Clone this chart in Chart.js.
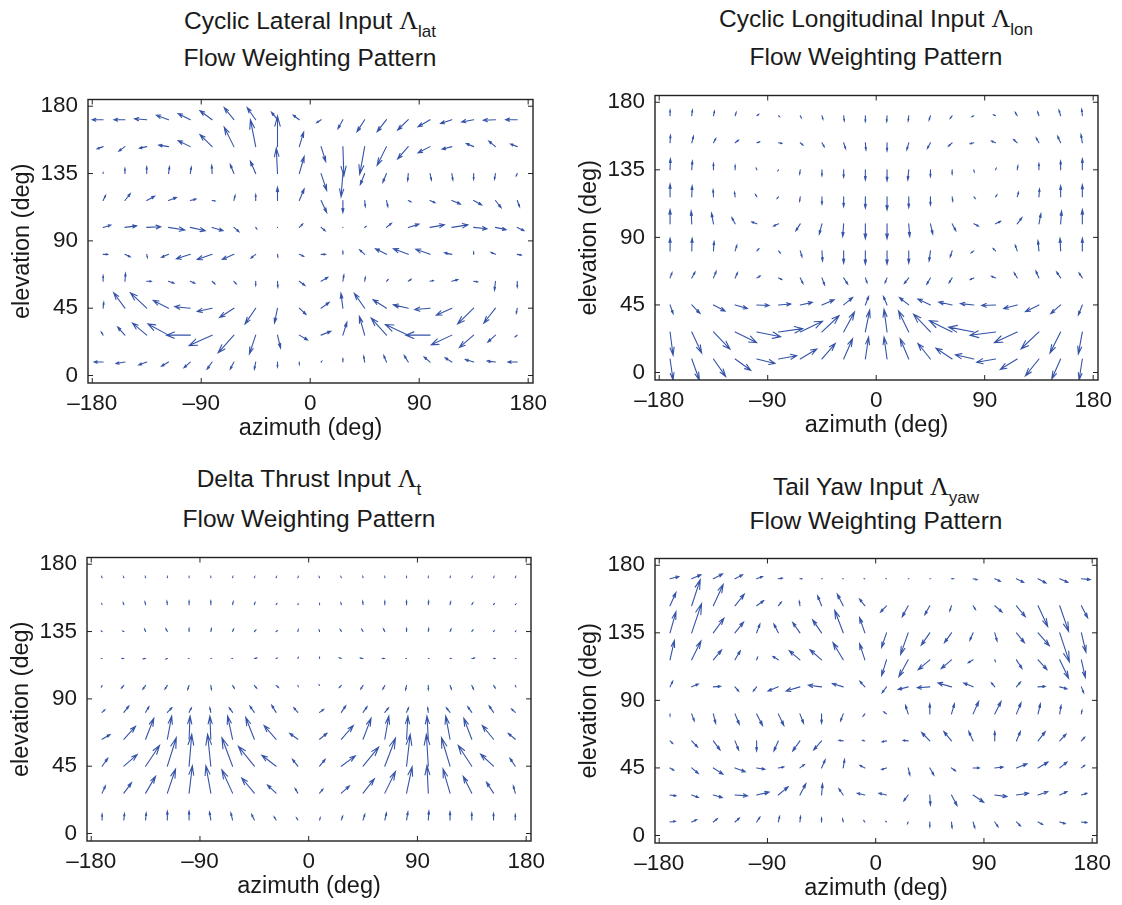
<!DOCTYPE html>
<html>
<head>
<meta charset="utf-8">
<script src="https://cdn.jsdelivr.net/npm/chart.js@4.4.1/dist/chart.umd.min.js"></script>
<style>
  body { margin:0; background:#fff; }
  #pagina { position:relative; width:1122px; height:905px; overflow:hidden; background:#fff;
            font-family:"Liberation Sans", Arial, sans-serif; color:#1a1a1a; }
  .quadro { position:absolute; }
  .titulo { position:absolute; width:600px; text-align:center; font-size:24.5px; line-height:24.5px; white-space:nowrap; }
  .lam { font-family:"Liberation Serif", "DejaVu Serif", serif; font-size:26px; }
  .sub { font-size:17px; position:relative; top:8px; }
</style>
</head>
<body>
<div id="pagina">
  <div class="titulo" style="left:10px;top:9px">Cyclic Lateral Input <span class="lam">&Lambda;</span><span class="sub">lat</span></div>
  <div class="titulo" style="left:10px;top:46px">Flow Weighting Pattern</div>
  <div class="titulo" style="left:576px;top:7px">Cyclic Longitudinal Input <span class="lam">&Lambda;</span><span class="sub">lon</span></div>
  <div class="titulo" style="left:576px;top:45px">Flow Weighting Pattern</div>
  <div class="titulo" style="left:9px;top:467px">Delta Thrust Input <span class="lam">&Lambda;</span><span class="sub">t</span></div>
  <div class="titulo" style="left:9px;top:507px">Flow Weighting Pattern</div>
  <div class="titulo" style="left:576px;top:475px">Tail Yaw Input <span class="lam">&Lambda;</span><span class="sub">yaw</span></div>
  <div class="titulo" style="left:576px;top:509px">Flow Weighting Pattern</div>

  <div class="quadro" style="left:2px;top:76px;width:555px;height:369px"><canvas id="graficoLat"></canvas></div>
  <div class="quadro" style="left:569px;top:72px;width:553px;height:370px"><canvas id="graficoLon"></canvas></div>
  <div class="quadro" style="left:1px;top:534px;width:554px;height:369px"><canvas id="graficoThr"></canvas></div>
  <div class="quadro" style="left:569px;top:535px;width:552px;height:370px"><canvas id="graficoYaw"></canvas></div>
</div>

<script>
// Grade de amostragem (graus)
const azimutes = [-171,-153,-135,-117,-99,-81,-63,-45,-27,-9,9,27,45,63,81,99,117,135,153,171];
const elevacoes = [171,153,135,117,99,81,63,45,27,9]; // linhas de cima para baixo
const ticksAzimute = [-180,-90,0,90,180];
const ticksElevacao = [0,45,90,135,180];

// Cyclic Lateral
const latU = [
  [-9,-9,-10,-10,-10,-10,-8,-7,-5,-5,-3.6,-4.1,-6.3,-7.7,-8.8,-9.9,-9.3,-9.9,-10,-9.6],
  [-5,-5,-6,-8,-10,-10,-8,-4.4,0,3.6,3.8,0.8,-4.1,-7.7,-8.8,-9.9,-8,-6,-5.5,-5.5],
  [0,0,0,0.8,0.8,-0.3,-3,-4.4,-1,4,4.6,-1.5,-3.6,-3,-0.5,1.1,0.8,0,-0.8,-0.8],
  [2,4.4,6.5,6.5,4.6,2.5,1,0,0,4,4.6,0,0.5,1.1,2.2,4.1,7.1,6.6,4.6,1.9],
  [6.3,9.6,11.5,13.4,12.3,9,4.1,0.8,0,2.7,3.3,0,1,4.1,8.8,11.8,13.2,11,8.8,5.5],
  [3.8,4.4,0.5,-5.7,-11.5,-12.3,-9.6,-3.8,0.3,3.6,3.6,0,-4.1,-9,-12.3,-11.8,-6,0,-3.6,3.3],
  [0,0.5,3.8,4.6,3.6,2.2,1.9,0,0.3,4.6,5.5,0.8,0.5,1.3,2.2,2.7,4.9,3.3,-0.8,0],
  [0.5,-9.3,-13.4,-12.6,-12.9,-12.3,-11.8,-8.8,-2.5,5.5,6.6,-1.6,-8.5,-11,-12.3,-12.6,-12.9,-13.2,-9.6,-0.8],
  [-1.5,-6,-11.8,-17,-19.7,-19,-13,-5.2,2.5,6.8,8,3.3,-4.4,-12.6,-18.9,-20,-17,-11.8,-6.3,-1.6],
  [-7.4,-7.4,-6.6,-5.8,-5.2,-4.1,-3,-1.1,0,0,0.5,0,-0.8,-2.2,-3.3,-4.9,-5.5,-6.8,-6.8,-7.7]
];
const latV = [
  [0,0,0.6,3,4,6,8,8,5,3,-2,-6,-8,-8,-6.9,-4.7,-2.6,-1.5,-0.4,0],
  [-1.5,-3,-1,1,4,8,13,18,20.4,9.7,-9.9,-19.6,-18.5,-12.5,-8.2,-4.1,-1.7,2,3.7,1.7],
  [0.5,3.4,4.5,4.5,4.3,5.4,6,8.2,17,11.4,-11.2,-15.5,-7.3,-5.8,-4.7,-4.3,-4.3,-3.9,-3.7,-1.5],
  [3.4,4.5,2.8,2,0.9,-0.3,3.4,3.9,8.8,7.7,-8,-8,-4.1,-4.1,-0.9,-1.5,-2.4,-3,-4.7,-4.1],
  [1.5,1,0.4,-1.7,-2.2,-2.2,-2.8,-0.9,0,2.2,-2.2,0,0.6,2.8,2.2,1.7,1.7,-0.9,-1.5,-2.2],
  [0,-1.7,-2,-2,-3,-3.4,-3.4,-2.4,-1.7,-1.3,0,1.9,3,3.7,3.7,3.4,1,1.5,1.3,-0.5],
  [3.7,5.2,0,-1.3,-1.3,-1.7,-1.7,-2.8,-3.9,-2.8,2.6,4.1,2.6,1.1,1.3,0.5,1.1,-0.4,-6,-3.9],
  [3.9,10.3,10.3,5.2,1,-2.2,-6.2,-10.5,-9.9,-4.1,3.9,9.9,9.9,5.6,2.2,-0.9,-4.7,-10.5,-9.9,-3.4],
  [2,5.4,8,7.5,0,-7,-11.8,-12.5,-8.6,-3.2,2.6,8.6,12.5,11.4,7.1,0,-6.5,-8.2,-4.7,-1.1],
  [0,-1,-1.9,-2.8,-3.7,-4.7,-4.7,-4.7,-3.2,-1.5,0.5,2.2,3.9,4.3,4.3,3.4,2.8,1.7,0.6,0]
];

// Cyclic Longitudinal
const lonU = [
  [0,0.5,0.8,0.8,1.4,0.8,0.8,0.8,0.5,0,-0.3,-0.5,-1.1,-1.6,-1.6,-1.6,-1.6,-1.1,-1.4,-0.5],
  [0.3,1.4,1.9,2.7,2.2,2.7,2.2,1.9,1.6,0.5,0,-1.6,-2.5,-3,-3,-3.3,-3,-2.2,-2.5,-1.1],
  [0.3,0.5,0,0,-0.5,-0.5,-0.5,0,0,0,0,-0.8,0,0,0.3,0.5,0.5,0,0,0],
  [0,0.3,-0.3,-0.5,-1.1,-1.1,-0.5,0,0,0,0,0,0,0.5,1.1,1.1,1.1,0.5,0,0],
  [0,-0.5,-1.6,-2.7,-4.1,-4.1,-3.6,-2.2,-0.8,0,0,0.8,1.9,3,3.8,4.1,3.8,1.6,0.8,0],
  [0,0.3,0.5,1.4,1.6,1.4,1.4,0.5,0,0,0,0,-1.1,-1.6,-2.2,-1.9,-1.6,-0.8,-0.5,0],
  [1.6,2.7,2.2,1.9,2.7,2.7,2.2,2.2,3.3,1.4,-1.6,-3.6,-3,-2.5,-3,-3.3,-2.5,-2.5,-3.3,-2.7],
  [2.5,6.8,9.6,10.1,10.1,10.1,10.1,10.1,7.4,2.7,-3,-7.7,-10.4,-11.2,-11.2,-11.5,-11.2,-11.2,-8.2,-3.3],
  [2.5,8.2,13.7,17.8,19.7,20,18.4,14.2,9,3.6,-2.5,-8.5,-14,-18.9,-20.8,-21.1,-18.9,-14.8,-8.8,-3.3],
  [2.5,6.3,10.1,12.9,15,15,13.7,11,7.4,2.7,-2.5,-7.1,-10.4,-13.4,-15.3,-15.6,-14,-11.2,-7.4,-2.7]
];
const lonV = [
  [3.7,3.7,3,2.2,0.9,-0.6,-1.3,-2.2,-3.4,-3.9,-3.9,-3.4,-2.8,-1.7,-0.6,0.6,2.2,2.6,3.7,4.3],
  [4.9,4.3,2.8,1.7,0.6,-0.4,-1.5,-2.6,-3.9,-4.7,-5.4,-4.7,-3.7,-2.2,-0.6,1.1,2.2,3.2,4.3,5.4],
  [7.3,5.8,4.1,3,1,-0.5,-2.8,-3.9,-4.9,-6.7,-7.3,-6.7,-4.5,-2.8,-1.3,0.9,2.6,4.1,5.8,7.3],
  [8.4,7.3,4.7,3,1.5,-0.9,-2.8,-4.9,-6.5,-7.5,-8.6,-7.1,-5.4,-2.8,-1.1,1.1,3,5.2,7.3,8],
  [9.5,8.4,7.1,4.1,1.3,-1.5,-4.5,-6.7,-8.4,-9.9,-9.9,-8.4,-6.7,-4.5,-1.5,1.7,4.1,6.7,8.4,9.5],
  [8.4,8.4,6.2,3.7,1.3,-1.3,-3.9,-6.7,-8.2,-8.8,-8.8,-8.2,-6.7,-3.9,-1.3,1.5,3.7,6.7,8.4,8.4],
  [3.4,3.9,4.3,3.4,1.3,-1.1,-3.7,-4.7,-4.1,-3.2,-3.2,-3.7,-4.1,-3.2,-1.1,1.1,3.4,4.5,3.9,3.2],
  [-5.8,-5.6,-4.1,-2.4,-0.4,0.6,1.7,3.4,4.9,5.6,5.6,4.9,3.9,1.9,0.9,-0.4,-2.4,-4.5,-5.8,-6.7],
  [-15.5,-14,-11.4,-7.1,-3.2,2.2,7.1,10.8,13.3,14.6,15,14,11.8,7.5,3.2,-2.2,-7.1,-11.2,-14,-14.6],
  [-14,-14,-11.6,-7.5,-3,2.2,6.7,10.3,13.5,14.6,14.6,13.5,10.3,7.1,2.8,-2.2,-6.9,-11.2,-13.3,-14]
];

// Delta Thrust
const thrU = [
  [-0.3,-0.3,-0.2,0,0,0,0.2,0.3,0.3,0.3,-0.3,-0.3,-0.2,0,0,0,0.2,0.3,0.3,0.3],
  [-0.3,-0.5,-0.5,-0.3,0,0,0.5,0.5,0.5,0.3,0,-0.3,-0.3,0,0,0.3,0.5,0.8,0.5,0.3],
  [-0.5,-0.8,-0.8,-1.1,0,0.5,0.8,1.1,0.8,0.3,-0.3,-0.8,-1.1,-1.1,0,0.3,0.8,0.8,0.5,0.3],
  [-0.3,-1.4,-1.9,-1.1,-0.3,0.3,-0.5,1.9,0.8,0.3,0,-1.6,-2.2,-1.9,-0.3,0.3,0.8,2.2,1.1,0.3],
  [-0.5,-1.9,-2.2,-1.9,-1.1,0.5,1.4,1.9,1.9,0.3,-0.3,-1.6,-1.9,-1.6,-0.8,0,1.1,1.4,1.4,0.3],
  [2.2,4.1,2.7,3.6,1.9,-0.8,-2.7,-3.6,-3.6,-3.3,3.3,3.6,3.3,3,1.6,-0.5,-3,-3.3,-3.6,-3],
  [6.6,9.6,6.8,3.6,0.8,-0.8,-4.1,-7.1,-9.9,-6.6,6,9.9,6.6,3.3,1.1,-1.1,-3.6,-6.6,-9.3,-5.8],
  [4.6,11,11.5,7.4,2.2,-2.7,-8.8,-13.2,-11.8,-4.4,4.6,11.5,12.9,8.8,3,-1.6,-7.1,-11.2,-10.7,-4.4],
  [2.7,6.3,8.2,6.8,2.7,-4.1,-8.8,-10.4,-7.1,-2.2,2.7,6.6,9.3,8.8,4.6,-1.1,-5.8,-7.1,-5.8,-1.6],
  [0,0.5,0.5,0,0,-1.1,-1.4,-2.2,-1.6,-1.1,0.5,1.1,1.4,1.4,1.1,0.5,0,0,0,0]
];
const thrV = [
  [0.6,0.6,0.6,0.6,0.6,0.6,0.6,0.6,0.6,0.6,0.6,0.6,0.6,0.6,0.6,0.6,0.6,0.6,0.6,0.6],
  [0.5,1.1,1.7,2.2,2.4,2.4,1.9,1.3,0.6,0.3,0.5,1.1,2.2,2.2,2.4,2.4,1.7,1.1,0.5,0.2],
  [0.3,0.3,1.5,1.7,1.9,1.9,1.5,0.9,0.5,1.1,0.9,1.3,1.5,1.7,1.9,1.9,1.5,0.9,0.5,0.3],
  [0,0,-0.2,-0.3,0,0,0,0.3,0.2,0.5,0.5,0.5,0.3,0,0,0,0,0.3,0,0],
  [-0.9,-1.7,-2.4,-2.4,-2.6,-2.6,-1.9,-1.9,-1.3,-0.5,0.3,-1.3,-2.4,-2.4,-2.8,-2.8,-2.4,-2.4,-1.7,-0.6],
  [1.7,4.1,3.7,3,3,3,3,4.1,4.7,3,1.9,4.3,3.7,3,3,3,3,3.7,4.3,2.2],
  [3.2,8.6,14,15.5,15.5,15.5,15.5,14.6,9.2,3.9,3.9,9.2,14,15.5,15.5,15.5,15.5,14,9.2,3.9],
  [5.2,7.7,13.8,19,21.3,21.3,19,13.3,7.3,4.5,4.5,6.9,12.7,18.7,21.3,21.3,19,13.8,8,5.2],
  [4.7,6.9,11.2,16.1,18.3,18.3,15.5,10.1,5.4,3,2.6,4.7,9.5,14.4,17.6,18.3,16.1,11.2,7.3,4.7],
  [3.9,4.3,4.7,5.8,6,5.4,4.7,3.7,2.2,1.5,1.5,2.6,3.7,4.7,5.4,6,5.4,4.7,4.3,3.7]
];

// Tail Yaw
const yawU = [
  [7.4,7.7,7.7,6.3,4.9,3.3,1.6,0.3,-0.3,-0.5,-0.3,0.3,0.3,1.6,3.3,4.6,6,6.6,6.8,7.4],
  [4.9,7.1,8.2,7.7,5.8,2.5,-0.5,-3.3,-4.9,-4.4,-4.9,-4.9,-4.1,-1.4,1.9,6,7.4,8,7.4,5.2],
  [4.9,8.2,8.8,7.1,2.7,-3.6,-6,-7.4,-7.1,-4.4,-4.1,-6.3,-7.1,-5.8,-2.7,1.9,6.6,9.3,8,3.8],
  [3.6,7.7,6.8,4.4,0.8,-4.4,-8.8,-9.6,-8.5,-4.4,-4.1,-7.7,-9.6,-8.5,-4.1,0.5,4.6,7.4,7.4,3.3],
  [2.2,5.5,6,3,-2.7,-8.5,-11.5,-11,-9,-4.1,-3.6,-8.2,-10.4,-11.2,-7.7,-2.7,3.3,6,6,1.9],
  [0,2.2,1.9,3.6,4.9,4.6,3,0,-2.2,-1.4,-2.2,-2.2,0,2.5,4.6,5.2,3.8,1.9,1.1,0.5],
  [2.2,4.9,5.5,3,0,-3.6,-6,-6.6,-3.6,-1.9,-3.6,-4.1,-6.8,-6.3,-3.6,0,3.3,6,5.2,2.7],
  [3,5.5,8,8.5,6.8,4.6,3.6,3,1.1,-4.1,-4.1,1.4,3.3,3.3,5.2,6.8,8.8,8.2,6,2.7],
  [4.9,5.5,7.4,10.4,10.4,8.2,4.9,0.8,-3.6,-6.3,-6.3,-3.6,0.5,4.6,8.8,10.1,10.1,8,6,4.6],
  [4.4,4.1,3.3,3.6,2.7,1.1,0.5,0,-0.5,-0.8,-0.5,-0.5,0,0.5,1.4,2.7,3.3,3.8,4.6,4.6]
];
const yawV = [
  [1.5,2.6,3.2,2.6,1.5,0.4,0,0,0,0,0,0,0,0,-0.6,-1.7,-2.4,-2.8,-2.4,-0.6],
  [8.8,17.4,14.2,7.7,3.4,2.4,3,6.7,7.7,4.5,-4.1,-7.3,-5.8,-3.4,-2.4,-4.1,-7.3,-13.8,-17,-8],
  [14,19.4,9.7,7.1,5.8,5.8,6.9,8.6,15,10.1,-9.7,-14.4,-8.2,-6.5,-4.9,-5.4,-6.5,-8.6,-19.4,-12.9],
  [12.9,12.5,6.5,6,1.7,2.2,6,6.7,11.4,10.8,-10.5,-11.2,-6.5,-5.8,-1.9,-0.9,-5.8,-6.5,-12.3,-11.8],
  [3.7,1.9,0.4,-2.8,-2.8,-2.8,-2.8,1.1,2.2,3.7,-3.9,-1.7,-0.6,2.6,2.6,2.6,3.2,0.4,-1.3,-3.9],
  [-1.3,-4.7,-6.2,-6.9,-7.7,-7.7,-6.2,-6.2,-4.7,-1.5,1.3,5.6,6.7,6.7,8.2,8.2,7.3,6.7,5.6,2.4],
  [-1.7,-4.1,-6,-6,-6.7,-6.7,-6.7,-6,0.4,0.4,-0.6,0.4,5.6,6.2,6.2,6.2,6.2,6.2,4.5,2.4],
  [-1.5,-3.7,-4.1,-2.6,-0.9,0.6,2.2,5.4,5.6,1.7,-1.1,-4.7,-4.7,-1.9,0,0.6,2.8,3.9,3.9,1.7],
  [-0.6,-1.7,-1.7,-0.6,1.9,5.4,7.5,7.3,4.1,1.1,1.1,-3.9,-6.7,-7.1,-4.9,-1.1,1.1,2.2,2.2,1.1],
  [0.4,1.5,2.2,2.6,3.2,3.7,3.7,2.6,2,0.8,0.3,-1,-3.2,-3.9,-3.9,-3.2,-2.6,-1.7,-1.1,-0.4]
];

const corSeta = "#3553a8";
const corTexto = "#1a1a1a";

Chart.defaults.font.family = '"Liberation Sans", Arial, sans-serif';
Chart.defaults.color = corTexto;

// Rótulo com traço tipográfico nos negativos
function rotulo(v) {
  return v < 0 ? "\u2013" + Math.abs(v) : String(v);
}

// Desenha as setas (estilo quiver) e a moldura com ticks internos
const pluginSetas = {
  id: "setas",
  afterDatasetsDraw(chart) {
    const { ctx, chartArea: a, scales: { x, y } } = chart;
    const alfa = 0.33, beta = 0.33;
    ctx.save();
    ctx.beginPath();
    ctx.rect(a.left, a.top, a.right - a.left, a.bottom - a.top);
    ctx.clip();
    ctx.strokeStyle = corSeta;
    ctx.lineWidth = 1.1;
    ctx.lineCap = "round";
    chart.data.datasets[0].data.forEach(p => {
      const px = p.x + p.u, py = p.y + p.v;
      ctx.beginPath();
      ctx.moveTo(x.getPixelForValue(p.x), y.getPixelForValue(p.y));
      ctx.lineTo(x.getPixelForValue(px), y.getPixelForValue(py));
      // cabeça da seta
      ctx.moveTo(x.getPixelForValue(px - alfa * (p.u + beta * p.v)), y.getPixelForValue(py - alfa * (p.v - beta * p.u)));
      ctx.lineTo(x.getPixelForValue(px), y.getPixelForValue(py));
      ctx.lineTo(x.getPixelForValue(px - alfa * (p.u - beta * p.v)), y.getPixelForValue(py - alfa * (p.v + beta * p.u)));
      ctx.stroke();
    });
    ctx.restore();
  },
  afterDraw(chart) {
    const { ctx, chartArea: a, scales: { x, y } } = chart;
    const t = 5;
    ctx.save();
    ctx.strokeStyle = "#222";
    ctx.lineWidth = 1.4;
    ctx.strokeRect(a.left, a.top, a.right - a.left, a.bottom - a.top);
    ctx.lineWidth = 1;
    ctx.beginPath();
    ticksAzimute.forEach(v => {
      const px = x.getPixelForValue(v);
      ctx.moveTo(px, a.bottom); ctx.lineTo(px, a.bottom - t);
      ctx.moveTo(px, a.top); ctx.lineTo(px, a.top + t);
    });
    ticksElevacao.forEach(v => {
      const py = y.getPixelForValue(v);
      ctx.moveTo(a.left, py); ctx.lineTo(a.left + t, py);
      ctx.moveTo(a.right, py); ctx.lineTo(a.right - t, py);
    });
    ctx.stroke();
    ctx.restore();
  }
};

function criarGrafico(idCanvas, U, V) {
  const pontos = [];
  elevacoes.forEach((el, i) => {
    azimutes.forEach((az, j) => {
      pontos.push({ x: az, y: el, u: U[i][j], v: V[i][j] });
    });
  });

  return new Chart(document.getElementById(idCanvas), {
    type: "scatter",
    data: { datasets: [{ data: pontos, pointRadius: 0, pointHoverRadius: 0 }] },
    options: {
      responsive: true,
      maintainAspectRatio: false,
      animation: false,
      events: [],
      layout: { padding: { top: 14, right: 24, left: 0, bottom: 0 } },
      plugins: { legend: { display: false }, tooltip: { enabled: false } },
      scales: {
        x: {
          min: -183.5, max: 184,
          grid: { display: false, drawTicks: false }, border: { display: false },
          afterBuildTicks: s => { s.ticks = ticksAzimute.map(v => ({ value: v })); },
          afterFit: s => { s.height = 62; },
          ticks: { padding: 7, maxRotation: 0, autoSkip: false, color: corTexto, font: { size: 22.5 }, callback: v => rotulo(v) },
          title: { display: true, text: "azimuth (deg)", color: corTexto, font: { size: 23.5, lineHeight: 1 }, padding: { top: 0, bottom: 5 } }
        },
        y: {
          min: -5, max: 184.5,
          grid: { display: false, drawTicks: false }, border: { display: false },
          afterBuildTicks: s => { s.ticks = ticksElevacao.map(v => ({ value: v })); },
          afterFit: s => { s.width = 86; },
          ticks: { padding: 10, autoSkip: false, color: corTexto, font: { size: 22.5 }, callback: v => rotulo(v) },
          title: { display: true, text: "elevation (deg)", color: corTexto, font: { size: 23.5, lineHeight: 1 }, padding: { top: 9, bottom: 0 } }
        }
      }
    },
    plugins: [pluginSetas]
  });
}

criarGrafico("graficoLat", latU, latV);
criarGrafico("graficoLon", lonU, lonV);
criarGrafico("graficoThr", thrU, thrV);
criarGrafico("graficoYaw", yawU, yawV);
</script>
</body>
</html>
